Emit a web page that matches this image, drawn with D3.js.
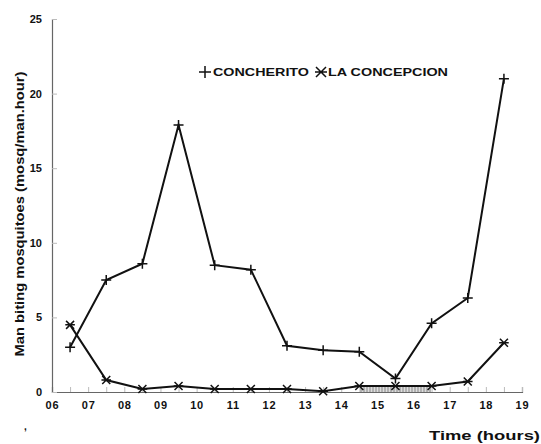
<!DOCTYPE html>
<html><head><meta charset="utf-8">
<script src="https://cdn.jsdelivr.net/npm/d3@7"></script>
<style>body{margin:0;background:#fff}svg{display:block}text{font-family:"Liberation Sans",Arial,sans-serif;font-weight:bold;fill:#111}</style>
</head><body>
<script>
const hours = [6.5,7.5,8.5,9.5,10.5,11.5,12.5,13.5,14.5,15.5,16.5,17.5,18.5];
const concherito = [3.0,7.5,8.6,17.9,8.5,8.2,3.1,2.8,2.7,0.9,4.6,6.3,21.0];
const concepcion = [4.5,0.8,0.2,0.4,0.2,0.2,0.2,0.05,0.4,0.4,0.4,0.7,3.3];
const xTickLabels = ["06","07","08","09","10","11","12","13","14","15","16","17","18","19"];
const yTicks = [0,5,10,15,20,25];
const seriesNames = ["CONCHERITO","LA CONCEPCION"];

const W=541,H=444;
const svg=d3.select("body").append("svg").attr("width",W).attr("height",H);
const x=d3.scaleLinear().domain([6,19]).range([52,522]);
const y=d3.scaleLinear().domain([0,25]).range([392,19]);

const defs=svg.append("defs");
const pat=defs.append("pattern").attr("id","hatch").attr("patternUnits","userSpaceOnUse").attr("width",3).attr("height",3);
pat.append("rect").attr("width",3).attr("height",3).attr("fill","#ddd");
pat.append("line").attr("x1",1).attr("y1",0).attr("x2",1).attr("y2",3).attr("stroke","#888").attr("stroke-width",1);

const gx=svg.append("g").attr("transform","translate(0,392)")
  .call(d3.axisBottom(x).tickValues(d3.range(6,19.01,0.5)).tickFormat(d=>Number.isInteger(d)?xTickLabels[d-6]:"").tickSize(-5).tickPadding(9));
gx.select(".domain").attr("stroke","#666").attr("stroke-width",1.2);
gx.selectAll(".tick line").attr("stroke","#bbb");
gx.selectAll("text").attr("font-size",11).attr("fill","#111").attr("letter-spacing",0.8);
const gy=svg.append("g").attr("transform","translate(52,0)")
  .call(d3.axisLeft(y).tickValues(yTicks).tickSize(-5).tickPadding(10));
gy.select(".domain").attr("stroke","#666").attr("stroke-width",1.2);
gy.selectAll(".tick line").attr("stroke","#bbb");
gy.selectAll("text").attr("font-size",11).attr("fill","#111");

const band=d3.area().x(d=>x(d[0])).y0(y(0)).y1(d=>y(d[1]));
const d2=hours.map((h,i)=>[h,concepcion[i]]);
svg.append("path").datum(d2.filter(d=>d[0]>=14.5&&d[0]<=16.5)).attr("d",band).attr("fill","url(#hatch)");

const line=d3.line().x(d=>x(d[0])).y(d=>y(d[1]));
const d1=hours.map((h,i)=>[h,concherito[i]]);
svg.append("path").datum(d1).attr("d",line).attr("fill","none").attr("stroke","#111").attr("stroke-width",2);
svg.append("path").datum(d2).attr("d",line).attr("fill","none").attr("stroke","#111").attr("stroke-width",2);

const plus=(g,cx,cy,s)=>g.append("path").attr("d",`M${cx-s},${cy}H${cx+s}M${cx},${cy-s}V${cy+s}`).attr("stroke","#111").attr("stroke-width",1.5).attr("fill","none");
const star=(g,cx,cy,s)=>g.append("path").attr("d",`M${cx-s},${cy-s}L${cx+s},${cy+s}M${cx-s},${cy+s}L${cx+s},${cy-s}M${cx-s*1.2},${cy}H${cx+s*1.2}`).attr("stroke","#111").attr("stroke-width",1.5).attr("fill","none");
const mk=svg.append("g");
d1.forEach(d=>plus(mk,x(d[0]),y(d[1]),5));
d2.forEach(d=>star(mk,x(d[0]),y(d[1]),4));

const lg=svg.append("g");
plus(lg,205,72,6);
lg.append("text").attr("x",213).attr("y",76).attr("font-size",10).attr("textLength",96).attr("lengthAdjust","spacingAndGlyphs").text(seriesNames[0]);
star(lg,321,72,5);
lg.append("text").attr("x",328).attr("y",76).attr("font-size",10).attr("textLength",120).attr("lengthAdjust","spacingAndGlyphs").text(seriesNames[1]);

svg.append("text").attr("transform","translate(24,214) rotate(-90)").attr("text-anchor","middle").attr("font-size",12.5)
  .attr("textLength",285).attr("lengthAdjust","spacingAndGlyphs")
  .text("Man biting mosquitoes (mosq/man.hour)");
svg.append("text").attr("x",540).attr("y",440).attr("text-anchor","end").attr("font-size",13.5)
  .attr("textLength",111).attr("lengthAdjust","spacingAndGlyphs").text("Time (hours)");
svg.append("text").attr("x",24).attr("y",430).attr("font-size",10).text(",");
</script>
</body></html>
